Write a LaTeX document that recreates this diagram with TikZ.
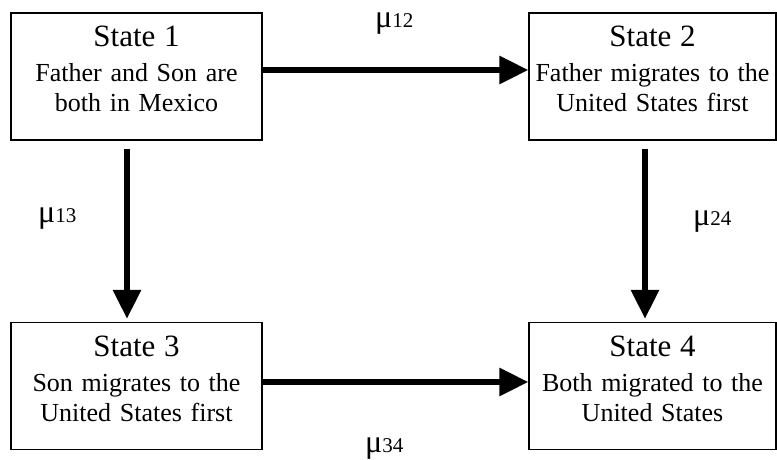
\documentclass[tikz,border=0pt]{standalone}
\usepackage{fontspec}
\setmainfont{Liberation Serif}
\usetikzlibrary{arrows.meta}

\newcommand{\statetext}[3]{\rule{0pt}{34pt}{\fontsize{31pt}{31pt}\selectfont #1}\\[5pt]#2\\#3\rule[-28pt]{0pt}{28pt}}
\newcommand{\rate}[1]{{\fontsize{32pt}{32pt}\selectfont μ}{\fontsize{21pt}{21pt}\selectfont #1}}

\begin{document}
\begin{tikzpicture}[x=1pt, y=1pt,
  state/.style={draw, line width=1.3pt, inner sep=0pt, align=center,
    font=\fontsize{26pt}{30pt}\selectfont},
  move/.style={line width=6pt, -{Triangle[length=29pt,width=27pt]}}]
\useasboundingbox (0,0) rectangle (777,459);

% The four states
\node[state, text width=251pt] (s1) at (136.5,382.5) {\statetext{State 1}{Father and Son are}{both in Mexico}};
\node[state, text width=247pt] (s2) at (652.5,382.5) {\statetext{State 2}{Father migrates to the}{United States first}};
\node[state, text width=251pt] (s3) at (136.5,73) {\statetext{State 3}{Son migrates to the}{United States first}};
\node[state, text width=247pt] (s4) at (652.5,73) {\statetext{State 4}{Both migrated to the}{United States}};

% Transitions
\draw[move] ([yshift=6.5pt]s1.east) -- ([yshift=6.5pt]s2.west);
\draw[move] ([yshift=4pt]s3.east) -- ([yshift=4pt]s4.west);
\draw[move, shorten <=8pt, shorten >=3pt] ([xshift=-9.5pt]s1.south) -- ([xshift=-9.5pt]s3.north);
\draw[move, shorten <=8pt, shorten >=3pt] ([xshift=-7.5pt]s2.south) -- ([xshift=-7.5pt]s4.north);

% Rates
\node[anchor=base west, inner sep=0pt] (m12) at (375,431) {\rate{12}};
\node[anchor=base west, inner sep=0pt] (m13) at (38,237) {\rate{13}};
\node[anchor=base west, inner sep=0pt] (m24) at (693,234) {\rate{24}};
\node[anchor=base west, inner sep=0pt] (m34) at (365,7) {\rate{34}};

\end{tikzpicture}
\end{document}
